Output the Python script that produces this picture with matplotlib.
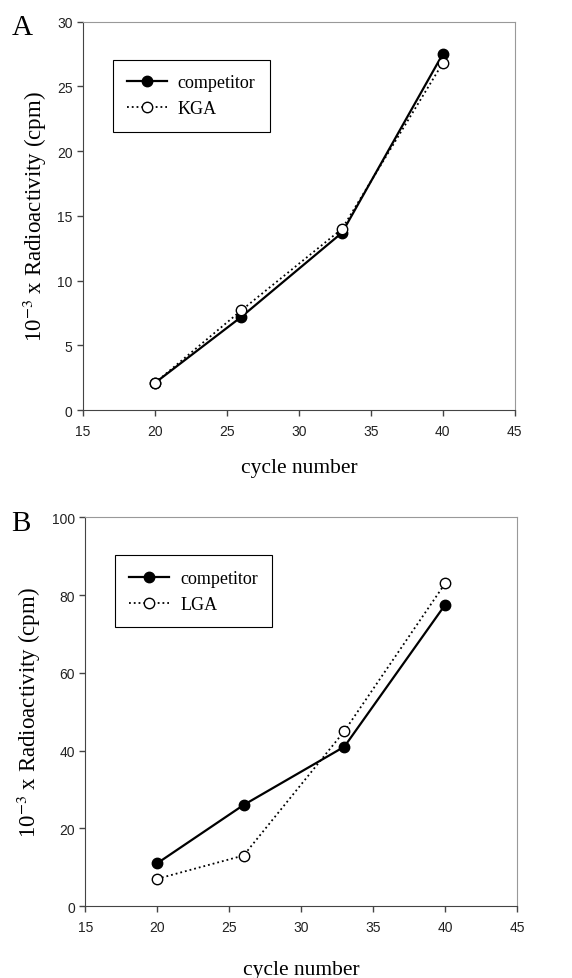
import numpy as np
import matplotlib.pyplot as plt

cycles = [20, 26, 33, 40]
comp_a = [2.1, 7.2, 13.7, 27.5]
kga = [2.1, 7.7, 14.0, 26.8]
comp_b = [11, 26, 41, 77.5]
lga = [7, 13, 45, 83]

serif = ['Liberation Serif', 'DejaVu Serif']
sans = ['Liberation Sans', 'DejaVu Sans']
plt.rcParams['mathtext.fontset'] = 'stix'

fig = plt.figure(figsize=(5.72, 9.79), dpi=100)

def panel(rect, y1, y2, name2, ymax, yticks, letter, xpad):
    ax = fig.add_axes(rect)
    ax.plot(cycles, y1, '-', color='black', lw=1.6, marker='o', ms=7.5,
            mfc='black', mec='black', label='competitor', zorder=3)
    ax.plot(cycles, y2, ':', color='black', lw=1.3, marker='o', ms=7.5,
            mfc='white', mec='black', label=name2, zorder=4)
    ax.set_xlim(15, 45)
    ax.set_ylim(0, ymax)
    ax.set_xticks([15, 20, 25, 30, 35, 40, 45])
    ax.set_yticks(yticks)
    ax.tick_params(direction='out', length=4, width=1, labelsize=10,
                   colors='#444444', labelcolor='#222222')
    ax.tick_params(axis='x', pad=6)
    for t in ax.get_xticklabels() + ax.get_yticklabels():
        t.set_family(sans)
    for s in ['top', 'right']:
        ax.spines[s].set_color('#999999')
    for s in ['left', 'bottom']:
        ax.spines[s].set_color('#444444')
    ax.set_xlabel('cycle number', family=serif, fontsize=15.5, labelpad=xpad)
    ax.set_ylabel(r'10$^{-3}$ x Radioactivity (cpm)', family=serif,
                  fontsize=16.5, labelpad=6)
    leg = ax.legend(loc='upper left', bbox_to_anchor=(0.069, 0.902),
                    borderaxespad=0, fancybox=False, edgecolor='black',
                    framealpha=1, prop={'family': serif, 'size': 13},
                    handlelength=2.2, handletextpad=0.6, borderpad=0.8,
                    labelspacing=0.5)
    leg.get_frame().set_linewidth(0.8)
    fig.text(0.02, rect[1] + rect[3] - 0.006, letter, family=serif,
             fontsize=21, va='center', ha='left')
    return ax

panel([0.145, 0.580, 0.755, 0.397], comp_a, kga, 'KGA', 30,
      [0, 5, 10, 15, 20, 25, 30], 'A', 14)
panel([0.149, 0.0735, 0.755, 0.397], comp_b, lga, 'LGA', 100,
      [0, 20, 40, 60, 80, 100], 'B', 19)

fig.savefig('out.png', dpi=100)
